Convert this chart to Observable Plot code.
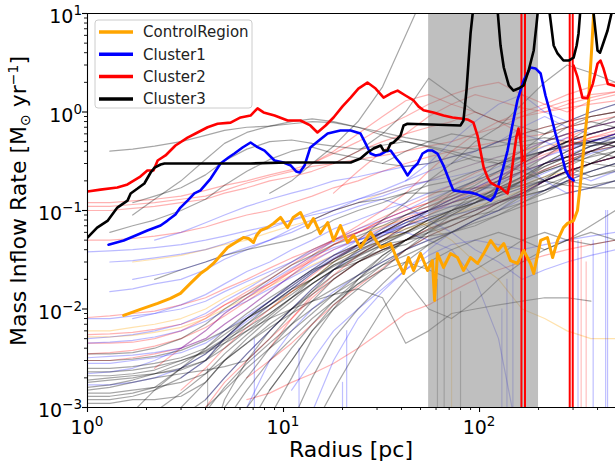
<!DOCTYPE html>
<html><head><meta charset="utf-8">
<script src="https://cdn.jsdelivr.net/npm/d3@7"></script>
<script src="https://cdn.jsdelivr.net/npm/@observablehq/plot@0.6"></script>
<style>body{margin:0;background:#fff;overflow:hidden}</style>
</head><body><div id="chart"></div>
<script>
// ---------- highlighted series ----------
const controlRadius = [1.53,1.86,2.28,2.65,2.98,3.35,3.77,4.10,4.39,4.77,5.18,5.69,6.25,6.63,7.03,7.28,7.63,8.28,8.90,9.66,10.5,11.2,12.2,13.3,14.2,15.4,16.8,18.0,19.5,21.2,22.8,24.7,27.8,31.3,35.2,38.2,41.0,43.4,46.1,50.0,54.3,57.5,59,61.0,65.5,71.1,77.2,82.8,90.0,97.7,105,114,124,133,144,156,168,182,189,205,222,236,250,268,281,302,316,327,343,360,373,382,395];
const controlRate = [0.0086,0.0099,0.0114,0.0128,0.0144,0.0182,0.0229,0.0258,0.029,0.0349,0.0421,0.0473,0.0532,0.052,0.0473,0.0557,0.0627,0.067,0.074,0.085,0.067,0.085,0.0955,0.067,0.083,0.0584,0.0755,0.0496,0.0705,0.0473,0.0557,0.0421,0.060,0.0421,0.0462,0.031,0.0229,0.0333,0.0246,0.0366,0.0246,0.031,0.0122,0.0366,0.0264,0.0366,0.0333,0.0246,0.0333,0.029,0.0366,0.0496,0.0393,0.0462,0.031,0.029,0.0393,0.029,0.0229,0.0496,0.0532,0.0333,0.0496,0.067,0.074,0.079,0.1,0.188,0.51,1.31,4.21,10,15];

const cluster1Radius = [1.28,1.53,1.76,2.02,2.36,2.56,2.81,2.98,3.24,3.51,3.77,4.25,4.77,5.24,5.62,6.18,6.79,7.28,8.0,9.0,10,10.9,11.6,12.1,12.8,13.7,15.1,16.8,19.5,22.0,24.7,26.2,27.8,29.5,31.3,33.1,35.2,37.3,39.5,42.9,45.5,48.3,51.2,54.3,57.5,61.0,65.5,71.1,73.6,80.0,90.0,97.7,105,114,119,124,131,139,147,156,168,182,193,205,217,230,244,259,275,288,302];
const cluster1Rate = [0.045,0.0496,0.0557,0.0627,0.0705,0.079,0.091,0.107,0.126,0.149,0.16,0.211,0.30,0.345,0.379,0.436,0.49,0.446,0.406,0.322,0.307,0.286,0.249,0.243,0.286,0.436,0.51,0.605,0.649,0.649,0.605,0.48,0.379,0.362,0.371,0.397,0.406,0.345,0.30,0.227,0.267,0.30,0.379,0.406,0.406,0.379,0.286,0.188,0.16,0.156,0.152,0.145,0.136,0.126,0.139,0.171,0.255,0.406,0.73,1.31,2.09,2.83,2.77,2.46,1.47,0.966,0.605,0.406,0.255,0.216,0.202];

const cluster2Radius = [1,1.165,1.42,1.60,1.86,2.02,2.17,2.28,2.50,2.81,3.24,3.56,4.10,4.61,5.37,6.04,6.79,7.37,7.91,9.0,10.5,12.2,13.7,14.9,16.4,18.0,20.0,22.0,24.1,26.8,29.5,32.4,35.2,38.2,41.9,46.1,48.8,51.8,58.2,65.5,72.8,80.0,86.8,93.1,97.7,101,105,110,114,121,128,133,139,144,149,154,158,162,166,230,302,316,335,355,378,400,414,428,452,494];
const cluster2Rate = [0.156,0.163,0.171,0.184,0.221,0.255,0.255,0.322,0.362,0.457,0.55,0.605,0.70,0.76,0.78,0.88,0.92,1.09,0.99,0.92,0.82,0.82,0.73,0.62,0.73,0.88,1.14,1.40,1.73,1.99,1.73,1.40,1.54,1.65,1.47,1.31,1.14,1.04,0.99,0.92,0.88,0.86,0.84,0.78,0.577,0.406,0.273,0.216,0.192,0.179,0.171,0.16,0.149,0.202,0.345,0.55,0.68,0.51,0.32,null,2.96,2.27,1.40,1.38,1.92,3.1,3.33,2.8,1.92,1.84];
const cluster2DropRadius = [163.6,170.6,288.5,298.9];

const cluster3Radius = [1,1.12,1.27,1.42,1.60,1.66,1.80,1.95,2.10,2.20,2.36,2.47,3.77,6.79,10.5,22.0,24.7,26.8,28.8,31.3,32.4,33.9,35.2,36.4,38.2,39.5,41.0,42.9,56.2,80.0,82.8,85.8,90.0,94.3,121,124,128,133,141,149,158,168,178,189,195,202,220,228,239,250,268,285,302,313,320,331,368,382,400,412,424,450,471,488];
const cluster3Rate = [0.053,0.067,0.079,0.107,0.126,0.149,0.167,0.188,0.243,0.273,0.293,0.30,0.30,0.30,0.307,0.307,0.337,0.388,0.426,0.457,0.406,0.406,0.48,0.49,0.538,0.577,0.73,0.76,0.746,0.73,0.82,1.65,6.27,15,15,10,4.73,2.83,1.86,1.65,1.73,1.86,2.64,4.21,7.55,15,15,10,4.73,3.93,3.33,3.33,3.57,4.73,6.27,15,15,10,4.2,4.0,4.73,6.72,10,15];

// ---------- shaded radius band ----------
const shadeStart = 55, shadeEnd = 200;

// ---------- faint background profiles (values at gridRadius) ----------
const gridRadius = [1,1.3,1.7,2.2,3,4,5,6.5,8.5,11,14,18,24,32,42,55,72,95,125,165,215,280,370,494];
const N = null;
const faintGray = [
 [N,0.4,0.42,0.45,0.5,0.58,0.65,0.7,0.72,0.76,0.8,0.78,0.7,0.62,0.55,0.5,0.45,0.42,0.45,0.5,0.55,0.5,0.48,0.5],
 [N,N,0.09,0.13,0.2,0.33,0.48,0.62,0.72,0.8,0.85,0.8,0.7,0.58,0.5,0.45,0.4,0.35,0.32,0.35,0.4,0.45,0.5,0.45],
 [N,N,0.12,0.14,0.17,0.23,0.32,0.42,0.5,0.52,0.48,0.45,0.42,0.46,0.5,0.44,0.38,0.32,0.3,0.34,0.4,0.46,0.52,0.56],
 [N,0.06,0.07,0.08,0.1,0.13,0.18,0.25,0.33,0.4,0.44,0.38,0.34,0.3,0.28,0.3,0.35,0.4,0.5,0.6,0.7,0.8,0.9,1.0],
 [N,N,N,N,N,N,N,N,0.15,0.2,0.3,0.45,0.8,1.8,6,20,N,N,N,N,N,N,N,N],
 [N,N,N,N,N,N,N,N,N,N,N,0.3,0.4,0.6,1.0,2.2,1.5,1.0,0.8,0.7,0.6,0.7,0.8,0.7],
 [0.0013,0.0013,0.0014,0.0016,0.0025,0.0035,0.005,0.008,0.011,0.016,0.02,0.028,0.035,0.045,0.05,0.063,0.079,0.1,0.126,0.14,0.16,0.2,0.18,0.2],
 [0.0018,0.0019,0.002,0.0022,0.0025,0.003,0.004,0.006,0.009,0.013,0.018,0.025,0.032,0.04,0.045,0.06,0.07,0.09,0.12,0.15,0.2,0.25,0.3,0.35],
 [N,N,N,0.0006,0.001,0.0018,0.003,0.005,0.008,0.012,0.018,0.025,0.03,0.04,0.05,0.07,0.1,0.13,0.15,0.2,0.25,0.3,0.4,0.35],
 [N,N,N,N,0.0005,0.0009,0.0016,0.0028,0.0045,0.007,0.01,0.014,0.02,0.028,0.035,0.045,0.06,0.08,0.11,0.15,0.18,0.22,0.25,0.3],
 [0.0011,0.0011,0.0012,0.0012,0.0013,0.0018,0.003,0.0045,0.007,0.01,0.014,0.02,0.03,0.038,0.05,0.055,0.06,0.07,0.09,0.12,0.16,0.22,0.3,0.4],
 [N,N,0.0009,0.0015,0.0025,0.004,0.006,0.009,0.013,0.018,0.025,0.035,0.045,0.06,0.08,0.1,0.12,0.14,0.16,0.2,0.3,0.4,0.5,0.6],
 [N,N,N,N,N,N,0.0007,0.0015,0.003,0.005,0.008,0.012,0.018,0.025,0.03,0.025,0.02,0.025,0.035,0.05,0.06,0.05,0.045,0.05],
 [0.0021,0.0021,0.0022,0.0024,0.003,0.0036,0.0045,0.006,0.008,0.01,0.012,0.014,0.016,0.013,0.0045,0.006,0.009,0.01,0.011,0.012,0.013,0.013,0.012,N],
 [N,N,N,N,N,0.0006,0.001,0.002,0.004,0.007,0.012,0.02,0.03,0.045,0.06,0.08,0.1,0.15,0.2,0.25,0.3,0.35,0.3,0.4],
 [0.0035,0.0035,0.0036,0.004,0.005,0.007,0.01,0.014,0.02,0.028,0.035,0.045,0.055,0.07,0.09,0.11,0.14,0.18,0.25,0.35,0.5,0.7,0.9,1.0],
 [N,N,N,N,N,N,N,N,0.0008,0.002,0.005,0.01,0.02,0.035,0.05,0.07,0.09,0.12,0.16,0.22,0.3,0.4,0.5,0.45],
 [N,N,N,0.02,0.025,0.03,0.035,0.04,0.045,0.05,0.06,0.08,0.1,0.12,0.15,0.18,0.2,0.25,0.3,0.35,0.4,0.5,0.45,0.5],
 [0.0015,0.0016,0.0018,0.002,0.0022,0.0024,0.0026,0.003,0.005,0.009,0.015,0.025,0.04,0.06,0.08,0.1,0.13,0.16,0.2,0.3,0.4,0.5,0.6,0.7],
 [N,N,N,N,N,N,N,N,N,N,0.0006,0.0015,0.004,0.01,0.02,0.03,0.04,0.05,0.06,0.05,0.04,0.05,0.06,0.05],
 [0.0019,0.002,0.0021,0.0022,0.0024,0.003,0.005,0.008,0.012,0.018,0.025,0.03,0.04,0.05,0.06,0.08,0.1,0.12,0.15,0.2,0.25,0.3,0.35,0.4],
 [N,N,N,N,N,0.0003,0.0012,0.003,0.006,0.01,0.016,0.025,0.035,0.05,0.07,0.1,0.15,0.2,0.3,0.4,0.6,0.8,1.0,1.2],
 [N,N,N,N,N,N,N,N,N,N,N,N,N,N,N,N,0.3,0.5,0.7,1.2,2.0,3.0,2.5,2.0],
 [N,N,N,N,N,N,N,N,N,N,N,N,0.05,0.08,0.12,0.2,0.3,0.35,0.3,0.25,0.2,0.25,0.3,0.35],
 [N,N,N,N,0.0008,0.0012,0.002,0.0035,0.006,0.01,0.015,0.022,0.03,0.04,0.05,0.06,0.08,0.1,0.14,0.2,0.28,0.35,0.45,0.55],
 [0.0025,0.0025,0.0026,0.0028,0.0032,0.004,0.0055,0.008,0.012,0.017,0.024,0.032,0.042,0.055,0.07,0.085,0.1,0.12,0.15,0.18,0.22,0.28,0.22,0.25],
 [N,N,N,N,N,N,N,0.0006,0.0015,0.003,0.006,0.01,0.016,0.025,0.04,0.06,0.09,0.12,0.18,0.25,0.35,0.5,0.7,0.9],
 [N,N,N,N,N,N,N,N,N,N,0.08,0.1,0.12,0.13,0.15,0.15,0.16,0.17,0.17,0.18,0.2,0.18,0.17,0.17],
 [0.0012,0.0012,0.0013,0.0015,0.002,0.003,0.0045,0.007,0.011,0.016,0.023,0.032,0.045,0.06,0.075,0.09,0.11,0.13,0.17,0.22,0.3,0.35,0.4,0.45],
 [N,N,N,N,N,N,0.0005,0.001,0.002,0.004,0.007,0.012,0.02,0.032,0.05,0.07,0.1,0.13,0.17,0.22,0.28,0.35,0.45,0.5],
 [0.0016,0.0017,0.0019,0.0022,0.0028,0.0038,0.005,0.007,0.01,0.014,0.02,0.028,0.038,0.05,0.065,0.08,0.1,0.12,0.14,0.17,0.2,0.24,0.3,0.28],
 [N,N,N,N,0.0006,0.001,0.0015,0.0025,0.004,0.006,0.009,0.014,0.022,0.035,0.05,0.065,0.08,0.09,0.1,0.12,0.15,0.2,0.25,0.3],
 [0.003,0.003,0.0031,0.0033,0.0038,0.0048,0.006,0.008,0.011,0.015,0.02,0.027,0.036,0.048,0.06,0.075,0.095,0.12,0.16,0.2,0.26,0.32,0.4,0.5],
 [N,N,N,N,N,N,N,N,N,0.0007,0.002,0.005,0.01,0.018,0.03,0.045,0.06,0.08,0.1,0.14,0.2,0.3,0.4,0.5],
 [0.0014,0.0014,0.0015,0.0016,0.0018,0.0022,0.003,0.0045,0.0065,0.009,0.012,0.016,0.022,0.03,0.04,0.05,0.06,0.075,0.09,0.11,0.13,0.15,0.17,0.2],
 [N,N,N,0.0009,0.0014,0.0022,0.0035,0.0055,0.0085,0.013,0.02,0.03,0.045,0.065,0.09,0.12,0.16,0.2,0.25,0.32,0.4,0.5,0.6,0.7],
 [N,N,N,N,N,N,N,N,0.0015,0.003,0.006,0.011,0.018,0.028,0.04,0.055,0.07,0.09,0.12,0.16,0.21,0.28,0.36,0.45],
 [0.0023,0.0023,0.0024,0.0026,0.003,0.0037,0.0048,0.0065,0.009,0.013,0.018,0.025,0.034,0.045,0.058,0.072,0.088,0.105,0.12,0.14,0.16,0.19,0.22,0.26],
 [N,N,N,N,N,N,N,N,N,N,N,N,N,0.3,0.4,0.5,0.6,0.55,0.5,0.45,0.5,0.6,0.7,0.8],
 [N,N,N,N,N,N,N,N,N,N,N,N,N,N,0.02,0.01,0.008,0.012,0.02,0.03,0.04,0.05,0.07,0.1]
];
const faintBlue = [
 [0.038,0.039,0.04,0.042,0.045,0.05,0.055,0.062,0.07,0.08,0.09,0.1,0.12,0.14,0.17,0.2,0.25,0.3,0.35,0.4,0.5,0.6,0.7,0.8],
 [0.005,0.0052,0.0055,0.006,0.007,0.009,0.012,0.016,0.022,0.03,0.04,0.05,0.065,0.08,0.1,0.13,0.16,0.2,0.25,0.3,0.4,0.5,0.6,0.7],
 [N,N,N,N,0.002,0.003,0.005,0.008,0.012,0.018,0.025,0.035,0.05,0.065,0.08,0.1,0.12,0.15,0.2,0.25,0.3,0.35,0.4,0.5],
 [0.0032,0.0033,0.0034,0.0036,0.004,0.005,0.007,0.01,0.015,0.022,0.03,0.04,0.05,0.06,0.06,0.05,0.04,0.02,0.005,0.0003,N,N,N,N],
 [N,N,0.008,0.009,0.011,0.014,0.018,0.024,0.03,0.04,0.05,0.065,0.08,0.1,0.12,0.15,0.18,0.22,0.28,0.35,0.45,0.55,0.5,0.6],
 [N,N,N,0.05,0.06,0.075,0.09,0.11,0.13,0.15,0.17,0.2,0.22,0.25,0.28,0.3,0.35,0.4,0.5,0.6,0.5,0.4,0.5,0.6],
 [N,N,N,N,N,N,N,0.001,0.003,0.006,0.01,0.015,0.022,0.03,0.04,0.05,0.06,0.08,0.1,0.13,0.16,0.2,0.25,0.3],
 [0.0022,0.0023,0.0025,0.003,0.004,0.006,0.009,0.013,0.019,0.026,0.034,0.042,0.05,0.06,0.07,0.08,0.09,0.1,0.12,0.15,0.2,0.25,0.3,0.35],
 [N,N,N,N,N,N,N,N,N,0.0015,0.003,0.006,0.01,0.016,0.025,0.04,0.06,0.08,0.1,0.15,0.2,0.25,0.2,0.25],
 [N,N,N,N,N,N,N,N,N,N,N,N,N,N,0.2,0.3,0.5,0.8,1.2,1.5,1.0,0.8,1.0,1.2],
 [N,N,0.02,0.022,0.025,0.03,0.035,0.042,0.05,0.06,0.075,0.09,0.11,0.13,0.11,0.08,0.06,0.04,0.03,0.02,0.025,0.03,0.035,0.04],
 [N,0.015,0.016,0.018,0.02,0.025,0.032,0.04,0.05,0.065,0.08,0.1,0.13,0.16,0.2,0.25,0.3,0.4,0.5,0.7,0.9,0.7,0.6,0.7],
 [0.0028,0.0028,0.003,0.0032,0.0036,0.0045,0.006,0.0085,0.012,0.017,0.024,0.033,0.045,0.06,0.08,0.1,0.13,0.17,0.22,0.3,0.2,0.15,0.17,0.2],
 [0.0017,0.0017,0.0018,0.002,0.0025,0.0035,0.005,0.0075,0.011,0.016,0.023,0.032,0.043,0.056,0.07,0.085,0.1,0.12,0.15,0.19,0.24,0.3,0.38,0.45],
 [N,N,N,N,N,0.0012,0.002,0.0035,0.006,0.01,0.016,0.025,0.038,0.055,0.075,0.1,0.13,0.17,0.22,0.28,0.35,0.42,0.5,0.6],
 [0.0045,0.0046,0.0048,0.0052,0.006,0.0075,0.0095,0.012,0.016,0.021,0.027,0.035,0.045,0.058,0.075,0.095,0.12,0.15,0.19,0.24,0.3,0.37,0.45,0.55],
 [N,N,N,N,N,N,N,N,N,N,0.0009,0.003,0.008,0.015,0.025,0.035,0.045,0.05,0.045,0.04,0.045,0.05,0.055,0.06],
 [N,0.03,0.031,0.033,0.036,0.04,0.046,0.055,0.066,0.08,0.095,0.11,0.13,0.15,0.18,0.2,0.22,0.25,0.3,0.35,0.4,0.45,0.5,0.55],
 [0.008,0.008,0.0085,0.009,0.01,0.012,0.015,0.019,0.024,0.03,0.038,0.048,0.06,0.075,0.09,0.1,0.11,0.12,0.14,0.17,0.2,0.25,0.3,0.35]
];
const faintRed = [
 [0.1,0.1,0.105,0.11,0.12,0.13,0.15,0.17,0.2,0.22,0.25,0.3,0.4,0.5,0.6,0.7,0.8,1.0,0.8,0.6,0.7,0.8,0.9,1.0],
 [0.12,0.12,0.125,0.13,0.14,0.16,0.18,0.2,0.23,0.26,0.3,0.38,0.5,0.7,0.9,1.2,1.5,1.8,2.0,1.5,1.2,1.0,1.3,1.5],
 [0.0082,0.0085,0.009,0.0095,0.011,0.013,0.016,0.02,0.026,0.033,0.04,0.05,0.06,0.075,0.09,0.11,0.13,0.16,0.2,0.25,0.3,0.35,0.4,0.45],
 [N,N,N,N,N,0.001,0.0018,0.003,0.005,0.008,0.013,0.02,0.03,0.04,0.05,0.065,0.08,0.1,0.12,0.15,0.2,0.25,0.3,0.35],
 [N,N,N,N,N,N,N,0.0012,0.0014,0.0018,0.0022,0.0028,0.004,0.006,0.009,0.011,0.015,0.02,0.025,0.03,0.035,0.04,0.045,0.05],
 [0.003,0.003,0.0032,0.0035,0.004,0.005,0.007,0.01,0.015,0.022,0.032,0.045,0.06,0.08,0.1,0.12,0.14,0.17,0.2,0.3,0.4,0.5,0.6,0.7],
 [N,N,N,0.0025,0.004,0.006,0.009,0.013,0.018,0.025,0.035,0.05,0.07,0.1,0.15,0.25,0.4,0.6,0.8,1.0,1.2,1.5,1.8,2.0],
 [N,N,N,N,N,N,N,N,N,N,0.3,0.4,0.6,0.9,1.3,1.5,1.2,1.0,0.8,0.9,1.0,1.1,1.2,1.3],
 [0.0045,0.0045,0.0046,0.005,0.006,0.008,0.011,0.015,0.02,0.028,0.038,0.05,0.065,0.085,0.11,0.14,0.18,0.24,0.3,0.4,0.5,0.6,0.5,0.6],
 [0.11,0.11,0.115,0.12,0.13,0.14,0.16,0.19,0.22,0.25,0.28,0.3,0.33,0.36,0.4,0.45,0.5,0.6,0.7,0.9,1.1,1.3,1.5,1.6],
 [N,N,N,N,N,N,N,N,0.004,0.008,0.014,0.022,0.035,0.05,0.07,0.09,0.12,0.16,0.22,0.3,0.4,0.55,0.7,0.8],
 [0.0035,0.0036,0.0038,0.0042,0.005,0.0065,0.0085,0.012,0.017,0.024,0.033,0.045,0.06,0.08,0.1,0.12,0.15,0.19,0.24,0.3,0.37,0.45,0.55,0.65],
 [N,N,N,N,0.0015,0.0025,0.004,0.0065,0.01,0.015,0.022,0.032,0.045,0.06,0.08,0.1,0.13,0.17,0.22,0.28,0.35,0.45,0.55,0.6],
 [0.0055,0.0056,0.0058,0.0062,0.007,0.0085,0.011,0.014,0.018,0.024,0.031,0.04,0.052,0.067,0.085,0.1,0.12,0.14,0.17,0.21,0.26,0.32,0.4,0.5],
 [0.05,0.05,0.052,0.055,0.06,0.068,0.078,0.09,0.1,0.12,0.14,0.17,0.2,0.25,0.3,0.35,0.4,0.45,0.5,0.55,0.6,0.7,0.8,0.9],
 [N,N,N,N,N,N,N,N,N,N,N,0.15,0.25,0.4,0.6,0.9,1.2,1.5,1.3,1.1,1.0,1.2,1.4,1.6],
 [N,N,N,N,N,N,N,0.002,0.003,0.0045,0.007,0.011,0.017,0.026,0.04,0.055,0.07,0.09,0.12,0.15,0.2,0.25,0.3,0.35]
];
const faintOrange = [
 [N,N,0.03,0.032,0.035,0.04,0.045,0.05,0.06,0.07,0.08,0.1,0.12,0.15,0.18,0.2,0.25,0.3,0.35,0.4,0.45,0.5,0.6,0.7],
 [0.006,0.006,0.0065,0.007,0.008,0.01,0.013,0.017,0.022,0.03,0.04,0.05,0.06,0.07,0.08,0.07,0.05,0.03,0.02,0.01,0.008,0.006,0.005,0.005],
 [N,N,N,N,N,N,N,N,0.01,0.015,0.02,0.03,0.04,0.05,0.06,0.08,0.1,0.12,0.15,0.18,0.22,0.25,0.3,0.35],
 [0.0052,0.0052,0.0054,0.0058,0.0065,0.008,0.01,0.013,0.017,0.022,0.028,0.035,0.045,0.055,0.065,0.075,0.09,0.11,0.13,0.16,0.2,0.25,0.3,0.35]
];
// faint profiles that drop to zero (drawn as vertical strokes)
const dropRadius = [4.1,7.1,12,20,21,61,66,72,80,130,138,148,318,330,350,380,440,450];
const dropTop    = [0.0025,0.005,0.004,0.0018,0.006,0.02,0.03,0.02,0.015,0.01,0.02,0.03,0.05,0.05,0.03,0.05,0.1,0.1];
const dropGroup  = ["gray","blue","blue","blue","blue","gray","gray","orange","gray","blue","blue","blue","blue","red","red","blue","blue","blue"];

// ---------- ticks / labels ----------
const xMajor = [1,10,100], xMajorExp = ["0","1","2"];
const xMinor = [2,3,4,5,6,7,8,9,20,30,40,50,60,70,80,90,200,300,400];
const yMajor = [0.001,0.01,0.1,1,10], yMajorExp = ["\u22123","\u22122","\u22121","0","1"];
const yMinor = [];
[0.001,0.01,0.1,1].forEach(d => { for (let k = 2; k <= 9; k++) yMinor.push(+(d*k).toPrecision(3)); });
const legendNames = ["ControlRegion","Cluster1","Cluster2","Cluster3"];
const legendColors = ["#FFA500","#0000FF","#FF0000","#000000"];

// ---------- build rows ----------
function gridRows(lines, tag) {
  const rows = [];
  lines.forEach((vals, i) => vals.forEach((v, j) => { if (v != null) rows.push({r: gridRadius[j], v, id: tag + i}); }));
  return rows;
}
function seriesRows(rs, vs) { return rs.map((r, i) => ({r, v: vs[i]})); }
const grayRows = gridRows(faintGray, "g"), blueRows = gridRows(faintBlue, "b"),
      redRows = gridRows(faintRed, "r"), orangeRows = gridRows(faintOrange, "o");
const dropRows = dropRadius.map((r, i) => ({r, top: dropTop[i], g: dropGroup[i]}));
const groupColor = {gray: "black", blue: "blue", red: "red", orange: "orange"};

const faint = (rows, color, op) => Plot.line(rows, {x: "r", y: "v", z: "id", stroke: color, strokeOpacity: op, strokeWidth: 1.2, clip: true});

const plot = Plot.plot({
  width: 615, height: 465,
  marginLeft: 87, marginRight: 0, marginTop: 13, marginBottom: 58,
  style: {fontFamily: "DejaVu Sans", fontSize: "17px", background: "white", color: "black", overflow: "visible"},
  x: {type: "log", domain: [1, 494]},
  y: {type: "log", domain: [0.001, 10]},
  marks: [
    faint(orangeRows, "orange", 0.32),
    faint(redRows, "red", 0.3),
    faint(blueRows, "blue", 0.27),
    faint(grayRows, "black", 0.35),
    Plot.ruleX(dropRows, {x: "r", y1: "top", y2: () => 0.0008, stroke: d => groupColor[d.g], strokeOpacity: 0.25, strokeWidth: 1.2, clip: true}),
    Plot.rect([{a: shadeStart, b: shadeEnd}], {x1: "a", x2: "b", fill: "gray", fillOpacity: 0.5}),
    Plot.ruleX(cluster2DropRadius, {stroke: "red", strokeWidth: 2}),
    Plot.line(seriesRows(controlRadius, controlRate), {x: "r", y: "v", stroke: "#FFA500", strokeWidth: 3, clip: true}),
    Plot.line(seriesRows(cluster1Radius, cluster1Rate), {x: "r", y: "v", stroke: "#0000FF", strokeWidth: 2.6, clip: true}),
    Plot.line(seriesRows(cluster2Radius, cluster2Rate), {x: "r", y: "v", stroke: "#FF0000", strokeWidth: 2.6, clip: true}),
    Plot.line(seriesRows(cluster3Radius, cluster3Rate), {x: "r", y: "v", stroke: "#000000", strokeWidth: 2.6, clip: true}),
    Plot.ruleX([1], {stroke: "black", strokeWidth: 1.1}),
    Plot.ruleY([0.001], {stroke: "black", strokeWidth: 1.1}),
    Plot.ruleY([10], {stroke: "black", strokeWidth: 1.1}),
    Plot.axisX({ticks: xMajor, tickSize: 5, tickFormat: () => "", label: null, strokeWidth: 1.1}),
    Plot.axisX({ticks: xMinor, tickSize: 3, tickFormat: () => "", label: null, strokeWidth: 0.9}),
    Plot.axisY({ticks: yMajor, tickSize: 5, tickFormat: () => "", label: null, strokeWidth: 1.1}),
    Plot.axisY({ticks: yMinor, tickSize: 3, tickFormat: () => "", label: null, strokeWidth: 0.9})
  ]
});
document.getElementById("chart").appendChild(plot);

// ---------- tick labels, axis titles, legend ----------
const sx = plot.scale("x"), sy = plot.scale("y");
const svg = d3.select(plot);
const font = "DejaVu Sans";
const tl = svg.append("g").attr("font-family", font).attr("fill", "black");
xMajor.forEach((t, i) => {
  const tx = tl.append("text").attr("x", sx.apply(t)).attr("y", sy.apply(0.001) + 27)
    .attr("text-anchor", "middle").attr("font-size", 19);
  tx.append("tspan").text("10");
  tx.append("tspan").attr("dy", -8).attr("font-size", 13.5).text(xMajorExp[i]);
});
yMajor.forEach((t, i) => {
  const ty = tl.append("text").attr("x", 82).attr("y", sy.apply(t) + 10)
    .attr("text-anchor", "end").attr("font-size", 19);
  ty.append("tspan").text("10");
  ty.append("tspan").attr("dy", -8).attr("font-size", 13.5).text(yMajorExp[i]);
});
svg.append("text").attr("x", 351).attr("y", 457).attr("text-anchor", "middle")
  .attr("font-family", font).attr("font-size", 22).attr("fill", "black").text("Radius [pc]");
const yl = svg.append("text").attr("transform", "translate(26,201) rotate(-90)")
  .attr("text-anchor", "middle").attr("font-family", font).attr("font-size", 22).attr("fill", "black");
yl.append("tspan").text("Mass Inflow Rate [M");
yl.append("tspan").attr("dy", 4).attr("font-size", 14).text("\u2299");
yl.append("tspan").attr("dy", -4).text(" yr");
yl.append("tspan").attr("dy", -8).attr("font-size", 14).text("\u22121");
yl.append("tspan").attr("dy", 8).text("]");

const lg = svg.append("g").attr("font-family", font).attr("text-anchor", "start");
lg.append("rect").attr("x", 95).attr("y", 20).attr("width", 157).attr("height", 88).attr("rx", 3)
  .attr("fill", "white").attr("fill-opacity", 0.8).attr("stroke", "#cccccc").attr("stroke-width", 1);
legendNames.forEach((n, i) => {
  const yy = 32 + i * 22.3;
  lg.append("line").attr("x1", 99).attr("x2", 133).attr("y1", yy).attr("y2", yy)
    .attr("stroke", legendColors[i]).attr("stroke-width", 3.5);
  lg.append("text").attr("x", 143).attr("y", yy).attr("dy", "0.36em").attr("text-anchor", "start")
    .attr("font-size", 15).attr("fill", "#222").text(n);
});
</script>
</body></html>
